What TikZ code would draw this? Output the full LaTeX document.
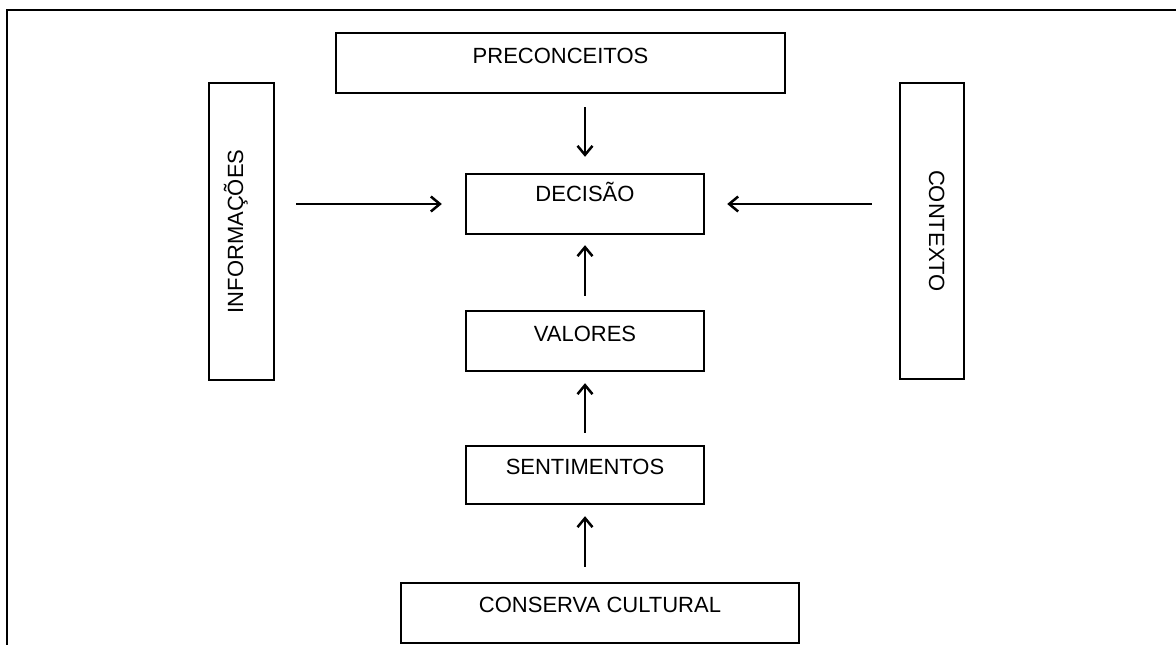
\documentclass[tikz,border=0pt]{standalone}
\usepackage{fontspec}
\setmainfont{Liberation Sans}
\usetikzlibrary{arrows.meta}
\begin{document}
\begin{tikzpicture}[x=1pt,y=-1pt,
  box/.style={draw, line width=2.4pt, inner sep=0pt, font=\fontsize{22}{26}\selectfont},
  arr/.style={line width=2.5pt, -{Straight Barb[length=9pt,width=15pt,line width=2.5pt]}},
  frameline/.style={line width=2.4pt}]
\useasboundingbox (0,0) rectangle (1176,645);
\fill[white] (0,0) rectangle (1176,645);
% outer frame (open on right and bottom)
\coordinate (fbl) at (7,650);
\coordinate (ftl) at (7,10);
\coordinate (ftr) at (1180,10);
\draw[frameline] (fbl) -- (ftl) -- (ftr);
% boxes
\node[box, minimum width=449pt, text height=30pt, text depth=30pt] (pre) at (560.5,63) {PRECONCEITOS};
\node[box, minimum width=238pt, text height=27pt, text depth=33pt] (dec) at (585,204) {DECISÃO};
\node[box, minimum width=238pt, text height=30pt, text depth=30pt] (val) at (585,341) {VALORES};
\node[box, minimum width=238pt, text height=28pt, text depth=30pt] (sen) at (585,475) {SENTIMENTOS};
\node[box, minimum width=398pt, text height=29pt, text depth=31pt] (con) at (600,613) {CONSERVA CULTURAL};
\node[box, rotate=90, minimum width=297pt, text height=34pt, text depth=31pt] (inf) at (241.5,231.5) {INFORMAÇÕES};
\node[box, rotate=-90, minimum width=296pt, text height=35pt, text depth=29pt] (ctx) at (932,231) {CONTEXTO};
% arrows
\draw[arr, shorten <=13pt, shorten >=16pt] (pre.south -| dec.north) -- (dec.north);
\draw[arr, shorten <=21pt, shorten >=23pt] (inf.south |- dec.west) -- (dec.west);
\draw[arr, shorten <=27pt, shorten >=22pt] (ctx.south |- dec.east) -- (dec.east);
\draw[arr, shorten <=14pt, shorten >=10pt] (val.north) -- (dec.south);
\draw[arr, shorten <=12pt, shorten >=11pt] (sen.north) -- (val.south);
\draw[arr, shorten <=15pt, shorten >=11pt] (sen.south |- con.north) -- (sen.south);
\end{tikzpicture}
\end{document}
